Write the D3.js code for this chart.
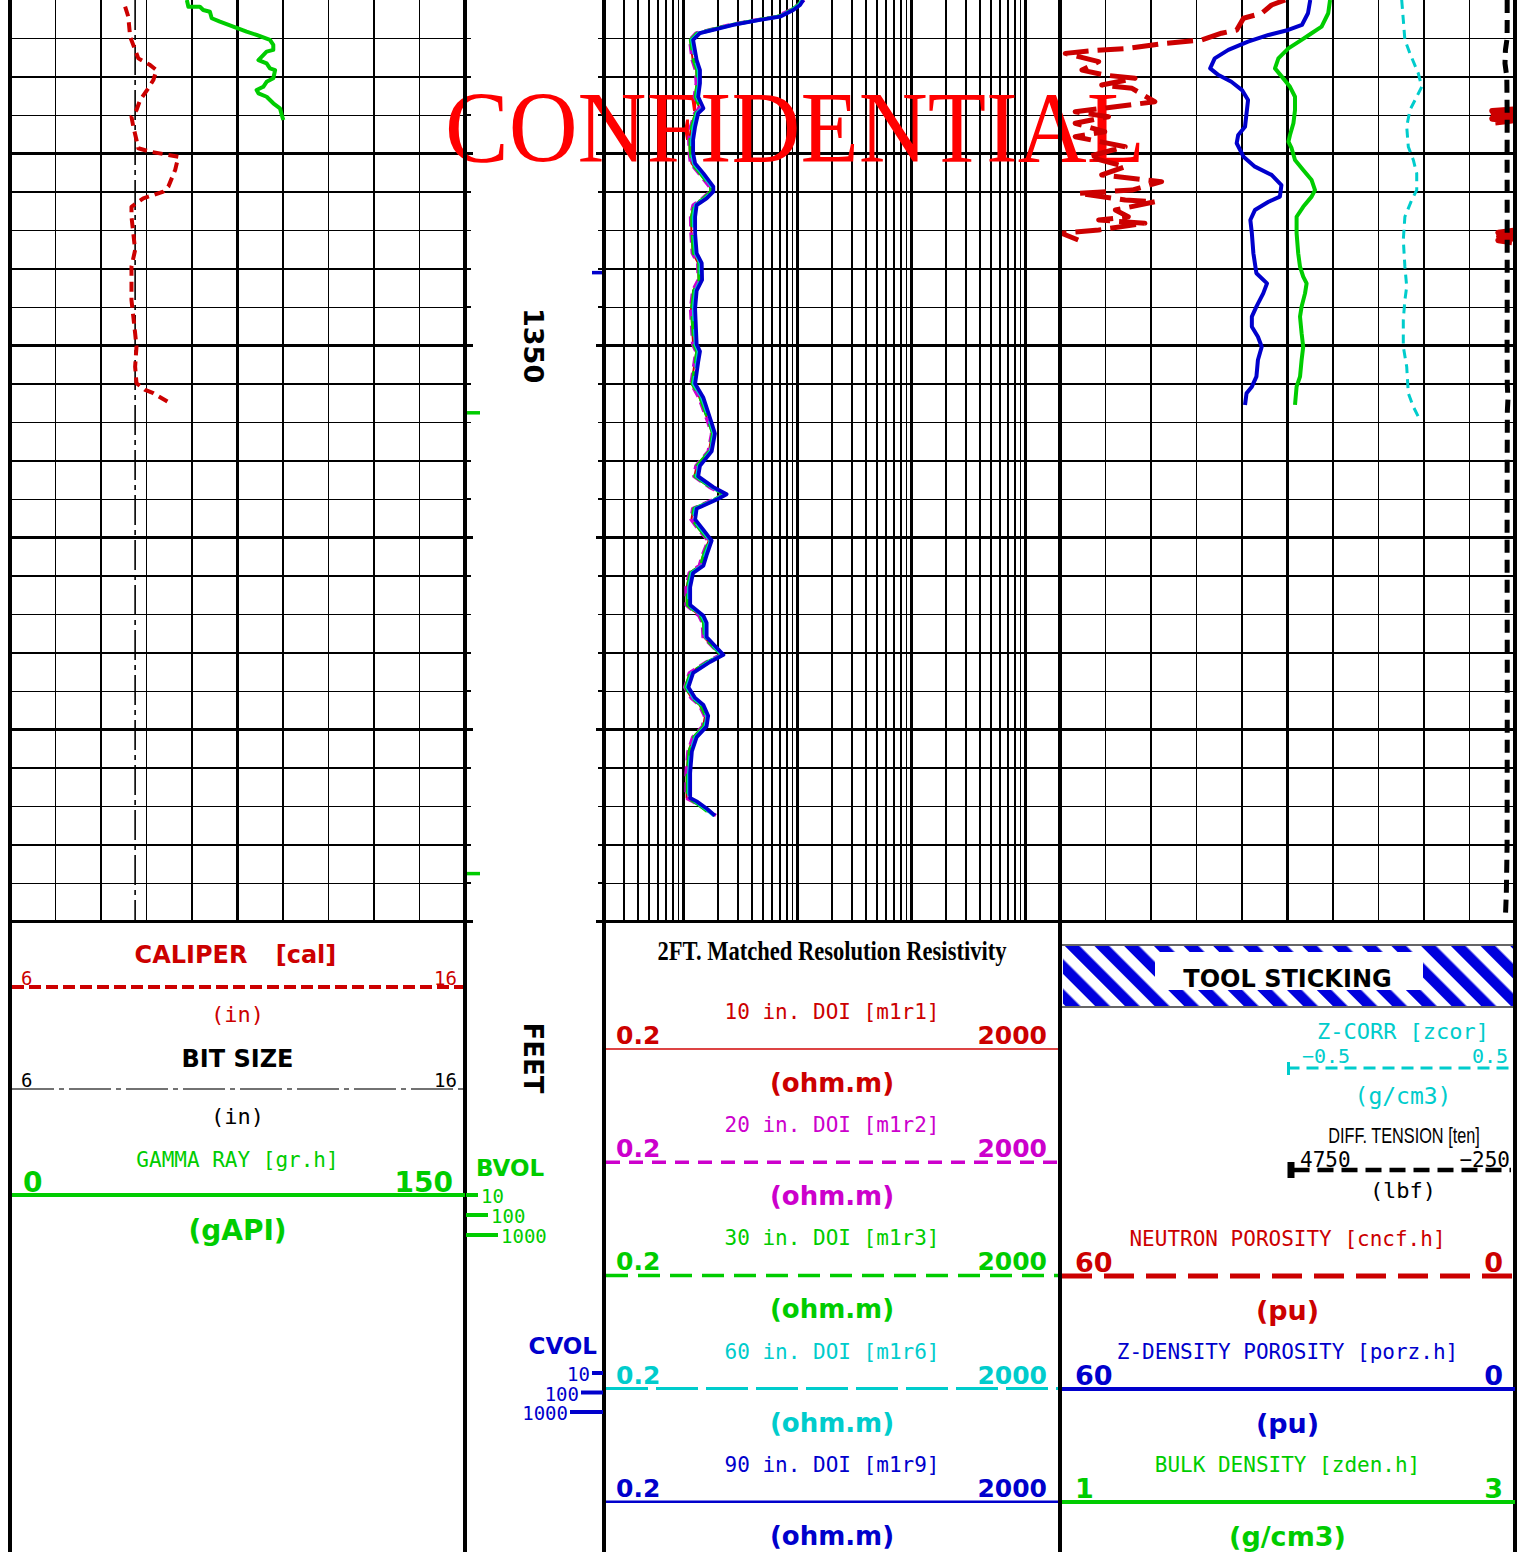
<!DOCTYPE html>
<html>
<head>
<meta charset="utf-8">
<script src="https://cdn.jsdelivr.net/npm/d3@7"></script>
<style>
  html, body { margin: 0; padding: 0; background: #fff; }
  svg { display: block; }
</style>
</head>
<body>
<div id="chart"></div>
<script>
// ---- depth window (feet) ----
const depthRange = [1332, 1380];
const depthLabels = [1350];

// ---- track 1: caliper, bit size, gamma ray ----
const bitSize = 8.75;
const caliperDepth = [1332.35,1332.87,1333.91,1334.6,1335.04,1335.39,1335.65,1336.17,1336.6,1337.21,1337.73,1338.08,1338.6,1339.29,1339.72,1339.9,1340.16,1340.85,1341.72,1341.98,1342.33,1342.77,1343.29,1344.15,1345.02,1345.89,1346.76,1347.63,1348.49,1349.36,1350.06,1351.1,1351.96,1352.31,1352.48,1353.0];
const caliperValue = [8.53,8.60,8.64,8.75,8.82,9.08,9.22,9.15,9.04,8.86,8.78,8.67,8.71,8.78,8.82,9.08,9.70,9.63,9.48,9.37,8.93,8.67,8.67,8.71,8.75,8.67,8.67,8.67,8.71,8.75,8.78,8.75,8.78,8.97,9.15,9.52];
const gammaDepth = [1332.0,1332.35,1332.35,1332.52,1332.61,1332.95,1333.13,1333.39,1333.65,1333.82,1334.08,1334.34,1334.6,1334.69,1335.13,1335.3,1335.56,1335.65,1336.08,1336.26,1336.52,1336.69,1336.86,1337.04,1337.38,1337.64,1337.99,1338.25];
const gammaValue = [58.3,58.8,62.6,63.7,65.9,66.5,69.2,73.6,78.0,81.3,85.7,86.8,86.8,84.6,81.9,84.6,85.7,87.4,86.8,84.6,83.5,81.3,81.9,84.6,86.8,89.0,89.6,90.1];

// ---- depth track: volume integration ticks ----
const bvolTickDepth = [1353.5, 1377.5];
const cvolTickDepth = [1346.2];
const volScaleLabels = ['10', '100', '1000'];

// ---- track 2: matched resolution resistivity (ohm.m) ----
const resDepth = [1332.00,1332.26,1332.52,1332.87,1333.04,1333.30,1333.56,1333.73,1334.08,1335.13,1335.65,1336.34,1337.04,1337.64,1337.90,1338.60,1339.29,1339.98,1340.51,1341.03,1341.72,1341.98,1342.33,1342.68,1343.29,1344.15,1345.19,1345.71,1346.58,1347.14,1348.07,1349.93,1350.30,1350.86,1351.98,1352.72,1354.03,1354.58,1355.51,1356.26,1356.81,1357.37,1357.74,1358.02,1358.49,1359.05,1359.60,1360.16,1360.91,1361.46,1361.84,1362.58,1363.51,1364.07,1364.44,1365.18,1365.74,1366.11,1366.48,1367.05,1367.79,1368.35,1368.72,1369.28,1369.83,1370.39,1371.14,1372.26,1373.56,1373.74,1374.11,1374.48];
const m1r1 = [11.1,10.2,8.7,6.6,4.35,2.55,1.70,1.30,1.14,1.20,1.29,1.30,1.25,1.38,1.26,1.16,1.12,1.13,1.17,1.38,1.70,1.72,1.48,1.22,1.16,1.17,1.20,1.34,1.35,1.21,1.16,1.21,1.29,1.25,1.17,1.38,1.66,1.78,1.66,1.30,1.24,1.70,2.24,1.84,1.21,1.17,1.38,1.66,1.48,1.38,1.13,1.06,1.06,1.38,1.48,1.50,1.84,2.12,1.60,1.13,1.03,1.17,1.38,1.54,1.48,1.21,1.10,1.06,1.06,1.21,1.50,1.86];
const m1r2 = [11.4,10.0,8.6,6.5,4.30,2.52,1.68,1.28,1.13,1.19,1.27,1.29,1.24,1.37,1.25,1.15,1.11,1.12,1.15,1.36,1.68,1.70,1.46,1.21,1.15,1.16,1.19,1.33,1.34,1.20,1.15,1.20,1.28,1.24,1.16,1.36,1.64,1.76,1.64,1.28,1.23,1.68,2.22,1.83,1.20,1.16,1.36,1.64,1.46,1.37,1.12,1.05,1.05,1.36,1.46,1.48,1.83,2.10,1.58,1.12,1.02,1.16,1.37,1.52,1.46,1.20,1.09,1.05,1.05,1.20,1.52,1.92];
const m1r3 = [10.9,10.1,8.8,6.6,4.40,2.58,1.72,1.31,1.15,1.22,1.31,1.32,1.27,1.40,1.28,1.18,1.14,1.15,1.18,1.40,1.72,1.74,1.50,1.24,1.18,1.19,1.22,1.36,1.37,1.23,1.18,1.23,1.31,1.27,1.19,1.40,1.68,1.80,1.68,1.31,1.26,1.72,2.26,1.86,1.23,1.19,1.40,1.68,1.50,1.41,1.15,1.08,1.08,1.40,1.50,1.52,1.86,2.14,1.62,1.15,1.04,1.19,1.41,1.56,1.50,1.23,1.12,1.08,1.08,1.23,1.50,1.80];
const m1r6 = [11.0,10.3,9.0,6.8,4.55,2.65,1.77,1.35,1.18,1.27,1.35,1.36,1.31,1.45,1.31,1.22,1.18,1.18,1.22,1.45,1.77,1.78,1.55,1.27,1.22,1.23,1.27,1.40,1.41,1.27,1.22,1.27,1.35,1.31,1.22,1.45,1.72,1.84,1.72,1.36,1.30,1.77,2.32,1.90,1.27,1.22,1.45,1.72,1.55,1.45,1.18,1.11,1.11,1.45,1.55,1.55,1.90,2.18,1.66,1.18,1.07,1.22,1.45,1.60,1.55,1.27,1.15,1.11,1.11,1.27,1.55,1.84];
const m1r9 = [11.2,10.5,9.16,7.0,4.67,2.72,1.82,1.39,1.21,1.30,1.39,1.39,1.34,1.49,1.34,1.26,1.21,1.21,1.26,1.49,1.82,1.82,1.59,1.30,1.26,1.26,1.30,1.44,1.45,1.30,1.26,1.30,1.39,1.34,1.26,1.49,1.76,1.88,1.76,1.39,1.34,1.82,2.38,1.95,1.30,1.26,1.49,1.76,1.59,1.49,1.21,1.14,1.14,1.49,1.59,1.59,1.95,2.23,1.70,1.21,1.10,1.26,1.49,1.64,1.59,1.30,1.18,1.14,1.14,1.30,1.59,1.88];
const resNames = ['10 in. DOI [m1r1]', '20 in. DOI [m1r2]', '30 in. DOI [m1r3]', '60 in. DOI [m1r6]', '90 in. DOI [m1r9]'];

// ---- track 3: porosity, density, corrections ----
const neutronDepth = [1332,1332.26,1332.69,1332.95,1333.56,1333.73,1334.08,1334.26,1334.52,1334.64,1334.78,1335.21,1335.65,1335.91,1336.08,1336.43,1336.60,1337.30,1337.56,1337.82,1338.08,1338.42,1338.86,1339.12,1339.64,1340.16,1340.68,1341.11,1341.46,1341.90,1342.07,1342.42,1342.51,1342.94,1343.29,1343.46,1343.63,1343.98,1344.15,1344.5];
const neutronValue = [30.3,32.1,33.4,35.8,36.7,38.7,41.3,46.2,51.0,55.8,59.3,54.9,57.1,54.1,50.1,54.5,50.5,47.5,52.7,58.0,53.6,58.0,54.1,58.0,51.4,56.3,51.4,54.5,46.6,50.5,57.6,51.4,47.5,52.7,51.0,54.9,48.8,54.9,59.8,57.6];
// neutron values beyond 60 pu, shown on the wrapped scale
const neutronWrapDepth = [1337.70,1337.78,1337.88,1337.98,1338.08,1338.18,1338.28,1338.38,null,1344.02,1344.12,1344.22,1344.32,1344.42,1344.52,1344.62];
const neutronWrapValue = [60.2,63.0,60.3,62.8,60.2,63.0,60.4,62.6,null,60.2,62.2,60.2,62.1,60.3,62.2,60.4];
const porzDepth = [1332,1332.69,1333.30,1333.56,1333.82,1334.17,1334.60,1335.04,1335.56,1335.91,1336.26,1336.69,1337.21,1337.90,1338.60,1339.03,1339.46,1340.16,1340.68,1341.11,1341.64,1342.24,1342.51,1342.94,1343.46,1344.15,1345.19,1346.23,1346.76,1347.28,1347.97,1348.49,1349.02,1349.54,1350.06,1350.75,1351.62,1352.14,1352.48,1353.09];
const porzValue = [27.0,27.3,28.1,29.9,32.5,35.2,37.8,39.6,40.2,39.1,37.4,36.0,35.2,35.4,35.6,36.5,36.7,35.8,34.3,32.1,30.8,31.0,32.5,34.3,34.9,34.7,34.5,34.1,32.7,33.2,34.1,34.7,34.7,33.9,33.4,33.9,34.1,34.7,35.4,35.6];
const zdenDepth = [1332,1332.69,1333.39,1333.73,1334.08,1334.52,1335.04,1335.56,1335.99,1336.52,1337.04,1337.73,1338.42,1339.03,1339.38,1339.72,1340.33,1340.85,1341.38,1341.90,1342.24,1342.77,1343.29,1344.15,1345.19,1345.89,1346.41,1346.76,1347.28,1347.97,1348.49,1349.36,1350.06,1350.75,1351.62,1352.14,1353.09];
const zdenValue = [2.187,2.179,2.150,2.106,2.062,2.004,1.960,1.945,1.975,2.011,2.033,2.033,2.026,2.011,2.004,2.018,2.033,2.069,2.106,2.121,2.106,2.069,2.040,2.040,2.047,2.055,2.069,2.084,2.077,2.062,2.055,2.062,2.069,2.062,2.055,2.040,2.033];
const zcorDepth = [1332,1333.04,1334.08,1334.78,1335.82,1336.52,1337.04,1337.73,1338.60,1339.64,1340.33,1341.03,1341.90,1342.42,1343.29,1344.5,1345.89,1346.93,1347.63,1348.67,1350.06,1351.10,1352.48,1353.18,1353.70];
const zcorValue = [0.002,0.009,0.016,0.038,0.075,0.090,0.068,0.038,0.024,0.031,0.053,0.068,0.068,0.046,0.016,0.009,0.016,0.024,0.016,0.009,0.009,0.024,0.031,0.053,0.075];
const tensionDepth = [1332,1333,1334,1334.6,1335.3,1336,1338,1340,1344,1348,1350,1352,1352.8,1353.4,1356,1360,1364,1368,1372,1376,1378.5,1379.7];
const tensionValue = [-78,-78,-76,-40,-30,-70,-78,-76,-78,-78,-76,-80,-95,-82,-78,-76,-78,-80,-78,-76,-60,-40];

// ---- page setup ----
const W = 1525, H = 1552;
const gridBottom = 921.6;
const T1 = [10, 465], TD = [465, 604], T2 = [604, 1060], T3 = [1060, 1515];
const RED = '#cc0000', MAG = '#cc00cc', GRN = '#00cc00', CYN = '#00cccc', BLU = '#0000cc';
const MONO = "'DejaVu Sans Mono', monospace";
const SANS = "'DejaVu Sans', sans-serif";

const svg = d3.select('#chart').append('svg')
  .attr('width', W).attr('height', H)
  .attr('viewBox', `0 0 ${W} ${H}`);
svg.append('rect').attr('width', W).attr('height', H).attr('fill', '#fff');
const defs = svg.append('defs');

// ---- scales ----
const y = d3.scaleLinear().domain(depthRange).range([0, gridBottom]);
const xCal = d3.scaleLinear().domain([6, 16]).range(T1);
const xGr = d3.scaleLinear().domain([0, 150]).range(T1);
const xRes = d3.scaleLog().domain([0.2, 2000]).range(T2);
const xNeu = d3.scaleLinear().domain([60, 0]).range(T3);
const xNeuWrap = d3.scaleLinear().domain([120, 60]).range(T3);
const xPorz = d3.scaleLinear().domain([60, 0]).range(T3);
const xDen = d3.scaleLinear().domain([1, 3]).range(T3);
const xZcor = d3.scaleLinear().domain([-0.5, 0.5]).range([(T3[0] + T3[1]) / 2, T3[1]]);
const xTen = d3.scaleLinear().domain([4750, -250]).range([(T3[0] + T3[1]) / 2, T3[1]]);

// ---- clip regions for each curve track ----
[['clip1', T1], ['clip2', T2], ['clip3', T3]].forEach(([id, t]) => {
  defs.append('clipPath').attr('id', id).append('rect')
    .attr('x', t[0]).attr('y', 0).attr('width', t[1] - t[0]).attr('height', gridBottom);
});

// ---- hatch pattern for the tool sticking flag ----
const pat = defs.append('pattern').attr('id', 'hatch')
  .attr('patternUnits', 'userSpaceOnUse').attr('width', 21).attr('height', 21)
  .attr('patternTransform', 'rotate(-45)');
pat.append('rect').attr('width', 21).attr('height', 21).attr('fill', '#fff');
pat.append('rect').attr('width', 10.5).attr('height', 21).attr('fill', '#0000dd');

// ---- grid ----
const grid = svg.append('g').attr('stroke', '#000').attr('shape-rendering', 'crispEdges');
const depthLines = d3.range(depthRange[0] + 2, depthRange[1] + 0.01, 2);
[T1, T2, T3].forEach(t => {
  grid.selectAll(null).data(depthLines).join('line')
    .attr('x1', t[0]).attr('x2', t[1])
    .attr('y1', d => y(d)).attr('y2', d => y(d))
    .attr('stroke-width', d => d % 10 === 0 ? 3.2 : 1.4);
});
// linear divisions, track 1
grid.selectAll(null).data(d3.range(7, 16, 1)).join('line')
  .attr('x1', d => xCal(d)).attr('x2', d => xCal(d))
  .attr('y1', 0).attr('y2', gridBottom)
  .attr('stroke-width', d => d === 11 ? 2.8 : 1.7);
// linear divisions, track 3
grid.selectAll(null).data(d3.range(54, 0, -6)).join('line')
  .attr('x1', d => xNeu(d)).attr('x2', d => xNeu(d))
  .attr('y1', 0).attr('y2', gridBottom)
  .attr('stroke-width', d => d === 30 ? 2.8 : 1.7);
// logarithmic divisions, track 2
const logLines = [];
[0.1, 1, 10, 100, 1000].forEach(dec => {
  for (let k = 1; k <= 9; k++) {
    const v = +(k * dec).toPrecision(3);
    if (v > 0.2 && v < 2000) logLines.push({ v, major: k === 1 });
  }
});
grid.selectAll(null).data(logLines).join('line')
  .attr('x1', d => xRes(d.v)).attr('x2', d => xRes(d.v))
  .attr('y1', 0).attr('y2', gridBottom)
  .attr('stroke-width', d => d.major ? (d.v === 1 || d.v === 1000 ? 3.4 : 2.6) : 1.8);

// depth track ticks
const ticks = svg.append('g').attr('stroke', '#000').attr('shape-rendering', 'crispEdges');
ticks.selectAll(null).data(depthLines).join('line')
  .attr('x1', TD[0]).attr('x2', d => TD[0] + (d % 10 === 0 ? 8 : 6))
  .attr('y1', d => y(d)).attr('y2', d => y(d))
  .attr('stroke-width', d => d % 10 === 0 ? 2.6 : 1.5);
ticks.selectAll(null).data(depthLines).join('line')
  .attr('x1', TD[1]).attr('x2', d => TD[1] - (d % 10 === 0 ? 8 : 6))
  .attr('y1', d => y(d)).attr('y2', d => y(d))
  .attr('stroke-width', d => d % 10 === 0 ? 2.6 : 1.5);

// volume integration ticks
svg.append('g').selectAll(null).data(bvolTickDepth).join('line')
  .attr('x1', TD[0]).attr('x2', TD[0] + 15)
  .attr('y1', d => y(d)).attr('y2', d => y(d))
  .attr('stroke', GRN).attr('stroke-width', 3.5);
svg.append('g').selectAll(null).data(cvolTickDepth).join('line')
  .attr('x1', TD[1] - 12).attr('x2', TD[1])
  .attr('y1', d => y(d)).attr('y2', d => y(d))
  .attr('stroke', BLU).attr('stroke-width', 3.5);

// depth labels
svg.append('g').selectAll(null).data(depthLabels).join('text')
  .attr('transform', d => `translate(${(TD[0] + TD[1]) / 2 - 1},${y(d)}) rotate(90)`)
  .attr('text-anchor', 'middle').attr('dy', '0.36em')
  .attr('font-family', SANS).attr('font-weight', 'bold').attr('font-size', 27)
  .text(d => d);

// ---- watermark (sits over the grid, under the curves) ----
svg.append('text')
  .attr('x', 445).attr('y', 162)
  .attr('font-family', "'Liberation Serif', 'Times New Roman', serif")
  .attr('font-size', 101).attr('fill', '#ff0000')
  .attr('textLength', 700).attr('lengthAdjust', 'spacingAndGlyphs')
  .text('CONFIDENTIAL');

// ---- curves ----
function curve(g, depth, vals, xs, style) {
  const pts = depth.map((d, i) => [d, vals[i]]);
  const line = d3.line()
    .defined(p => p[0] != null && p[1] != null)
    .x(p => xs(p[1])).y(p => y(p[0]));
  g.append('path').datum(pts).attr('d', line)
    .attr('fill', 'none').attr('stroke', style.color)
    .attr('stroke-width', style.width)
    .attr('stroke-dasharray', style.dash || null)
    .attr('stroke-linejoin', 'round');
}
const c1 = svg.append('g').attr('clip-path', 'url(#clip1)');
curve(c1, [depthRange[0], depthRange[1]], [bitSize, bitSize], xCal, { color: '#000', width: 1.6, dash: '30,5,5,5' });
curve(c1, caliperDepth, caliperValue, xCal, { color: RED, width: 4, dash: '10,6' });
curve(c1, gammaDepth, gammaValue, xGr, { color: GRN, width: 4 });

const c2 = svg.append('g').attr('clip-path', 'url(#clip2)');
curve(c2, resDepth, m1r1, xRes, { color: RED, width: 2 });
curve(c2, resDepth, m1r2, xRes, { color: MAG, width: 3.5, dash: '10,6' });
curve(c2, resDepth, m1r3, xRes, { color: GRN, width: 3.5, dash: '20,8' });
curve(c2, resDepth, m1r6, xRes, { color: CYN, width: 3.5, dash: '40,8' });
curve(c2, resDepth, m1r9, xRes, { color: BLU, width: 3.8 });

const c3 = svg.append('g').attr('clip-path', 'url(#clip3)');
curve(c3, neutronDepth, neutronValue, xNeu, { color: RED, width: 5, dash: '26,9' });
curve(c3, neutronWrapDepth, neutronWrapValue, xNeuWrap, { color: RED, width: 6 });
curve(c3, zcorDepth, zcorValue, xZcor, { color: CYN, width: 3, dash: '9,6' });
curve(c3, porzDepth, porzValue, xPorz, { color: BLU, width: 4 });
curve(c3, zdenDepth, zdenValue, xDen, { color: GRN, width: 4 });
curve(c3, tensionDepth, tensionValue, xTen, { color: '#000', width: 5, dash: '13,7' });

// ---- track borders ----
svg.append('g').attr('stroke', '#000').attr('stroke-width', 4).attr('shape-rendering', 'crispEdges')
  .selectAll(null).data([T1[0], T1[1], T2[0], T2[1], T3[1]]).join('line')
  .attr('x1', d => d).attr('x2', d => d).attr('y1', 0).attr('y2', H);

// ---- header ----
const hd = svg.append('g');
function label(x, yy, s, o = {}) {
  const t = hd.append('text').attr('x', x).attr('y', yy).text(s)
    .attr('font-family', o.family || MONO)
    .attr('font-size', o.size || 21)
    .attr('font-weight', o.bold ? 'bold' : 'normal')
    .attr('fill', o.fill || '#000')
    .attr('text-anchor', o.anchor || 'middle');
  if (o.len) t.attr('textLength', o.len).attr('lengthAdjust', 'spacingAndGlyphs');
  return t;
}
function scaleLine(x1, x2, yy, color, width, dash) {
  hd.append('line').attr('x1', x1).attr('x2', x2).attr('y1', yy).attr('y2', yy)
    .attr('stroke', color).attr('stroke-width', width)
    .attr('stroke-dasharray', dash || null);
}
const c1x = (T1[0] + T1[1]) / 2, c2x = (T2[0] + T2[1]) / 2, c3x = (T3[0] + T3[1]) / 2;

// track 1
label(191, 963, 'CALIPER', { family: SANS, bold: true, size: 24, fill: RED });
label(306, 963, '[cal]', { family: SANS, bold: true, size: 24, fill: RED });
label(21, 985, xCal.domain()[0], { size: 19, fill: RED, anchor: 'start' });
label(457, 985, xCal.domain()[1], { size: 19, fill: RED, anchor: 'end' });
scaleLine(12, 463, 987, RED, 4, '12,5');
label(c1x, 1022, '(in)', { size: 22, fill: RED });
label(c1x, 1067, 'BIT SIZE', { family: SANS, bold: true, size: 24 });
label(21, 1087, xCal.domain()[0], { size: 19, anchor: 'start' });
label(457, 1087, xCal.domain()[1], { size: 19, anchor: 'end' });
scaleLine(12, 463, 1089, '#444', 1.6, '42,5,5,5');
label(c1x, 1124, '(in)', { size: 22 });
label(c1x, 1167, 'GAMMA RAY [gr.h]', { size: 21, fill: GRN });
label(23, 1192, xGr.domain()[0], { family: SANS, bold: true, size: 28, fill: GRN, anchor: 'start' });
label(453, 1192, xGr.domain()[1], { family: SANS, bold: true, size: 28, fill: GRN, anchor: 'end' });
scaleLine(12, 465, 1195, GRN, 4);
label(c1x, 1240, '(gAPI)', { family: SANS, bold: true, size: 28, fill: GRN });

// depth track
hd.append('text').attr('transform', `translate(${(TD[0] + TD[1]) / 2 - 1},1058) rotate(90)`)
  .attr('text-anchor', 'middle').attr('dy', '0.36em')
  .attr('font-family', SANS).attr('font-weight', 'bold').attr('font-size', 26).text('FEET');
label(476, 1176, 'BVOL', { family: SANS, bold: true, size: 23, fill: GRN, anchor: 'start' });
volScaleLabels.forEach((s, i) => {
  const yy = 1195 + i * 20;
  scaleLine(TD[0] + 1, TD[0] + 13 + i * 10, yy, GRN, 4);
  label(TD[0] + 16 + i * 10, yy + 8, s, { size: 19, fill: GRN, anchor: 'start' });
});
label(597, 1354, 'CVOL', { family: SANS, bold: true, size: 23, fill: BLU, anchor: 'end' });
volScaleLabels.forEach((s, i) => {
  const yy = 1373 + i * 19.5;
  const x0 = TD[1] - 12 - i * 11;
  scaleLine(x0, TD[1] - 1, yy, BLU, 4);
  label(x0 - 2, yy + 8, s, { size: 19, fill: BLU, anchor: 'end' });
});

// track 2
label(c2x, 960, '2FT. Matched Resolution Resistivity',
  { family: "'Liberation Serif', serif", bold: true, size: 27, len: 349 });
const resColors = [RED, MAG, GRN, CYN, BLU];
const resHeadStyle = [[2, null], [3.5, '14,9'], [3.5, '22,10'], [3, '42,8'], [2.5, null]];
resNames.forEach((nm, i) => {
  const off = i * 113.2;
  label(c2x, 1019 + off, nm, { size: 21, fill: resColors[i] });
  label(616, 1044 + off, xRes.domain()[0], { family: SANS, bold: true, size: 25, fill: resColors[i], anchor: 'start' });
  label(1047, 1044 + off, xRes.domain()[1], { family: SANS, bold: true, size: 25, fill: resColors[i], anchor: 'end' });
  scaleLine(T2[0] + 2, T2[1] - 2, 1049 + off, i === 0 ? '#dd4444' : resColors[i], resHeadStyle[i][0], resHeadStyle[i][1]);
  label(c2x, 1092 + off, '(ohm.m)', { family: SANS, bold: true, size: 26, fill: resColors[i] });
});

// track 3: tool sticking flag
hd.append('rect').attr('x', T3[0] + 3).attr('y', 945).attr('width', T3[1] - T3[0] - 5).attr('height', 62)
  .attr('fill', 'url(#hatch)');
hd.append('rect').attr('x', 1155).attr('y', 952).attr('width', 268).attr('height', 38).attr('fill', '#fff');
scaleLine(T3[0] + 2, T3[1] - 2, 945, '#666', 2);
scaleLine(T3[0] + 2, T3[1] - 2, 1007, '#666', 2);
label(c3x, 987, 'TOOL STICKING', { family: SANS, bold: true, size: 24 });

// z-correction and tension scales (right half of track 3)
const zx0 = xZcor.range()[0], zx1 = xZcor.range()[1];
label(1403, 1039, 'Z-CORR [zcor]', { size: 22, fill: CYN });
label(1302, 1063, '\u22120.5', { size: 20, fill: CYN, anchor: 'start' });
label(1508, 1063, '0.5', { size: 20, fill: CYN, anchor: 'end' });
hd.append('line').attr('x1', zx0 + 1).attr('x2', zx0 + 1).attr('y1', 1062).attr('y2', 1075)
  .attr('stroke', CYN).attr('stroke-width', 3);
scaleLine(zx0, zx1 - 4, 1068, CYN, 3, '12,7');
label(1403, 1104, '(g/cm3)', { size: 23, fill: CYN });
hd.append('text').attr('transform', 'translate(1404,1143) scale(0.74,1)')
  .attr('text-anchor', 'middle').attr('font-family', "'Liberation Sans', sans-serif")
  .attr('font-size', 22).text('DIFF. TENSION [ten]');
label(1300, 1167, xTen.domain()[0], { size: 21, anchor: 'start' });
label(1510, 1167, '\u2212250', { size: 21, anchor: 'end' });
hd.append('rect').attr('x', zx0).attr('y', 1162).attr('width', 7).attr('height', 16).attr('fill', '#000');
scaleLine(zx0 + 6, zx1 - 4, 1170, '#000', 4.5, '16,8');
label(1403, 1198, '(lbf)', { size: 22 });

// porosity and density scales
const t3Scales = [
  { name: 'NEUTRON POROSITY [cncf.h]', unit: '(pu)', lo: xNeu.domain()[0], hi: xNeu.domain()[1], color: RED, w: 5, dash: '30,12' },
  { name: 'Z-DENSITY POROSITY [porz.h]', unit: '(pu)', lo: xPorz.domain()[0], hi: xPorz.domain()[1], color: BLU, w: 4, dash: null },
  { name: 'BULK DENSITY [zden.h]', unit: '(g/cm3)', lo: xDen.domain()[0], hi: xDen.domain()[1], color: GRN, w: 4, dash: null }
];
t3Scales.forEach((s, i) => {
  const off = i * 113;
  label(c3x, 1246 + off, s.name, { size: 21, fill: s.color });
  label(1075, 1272 + off, s.lo, { family: SANS, bold: true, size: 27, fill: s.color, anchor: 'start' });
  label(1503, 1272 + off, s.hi, { family: SANS, bold: true, size: 27, fill: s.color, anchor: 'end' });
  scaleLine(T3[0] + 2, T3[1], 1276 + off, s.color, s.w, s.dash);
  label(c3x, 1320 + off, s.unit, { family: SANS, bold: true, size: 27, fill: s.color });
});
</script>
</body>
</html>
